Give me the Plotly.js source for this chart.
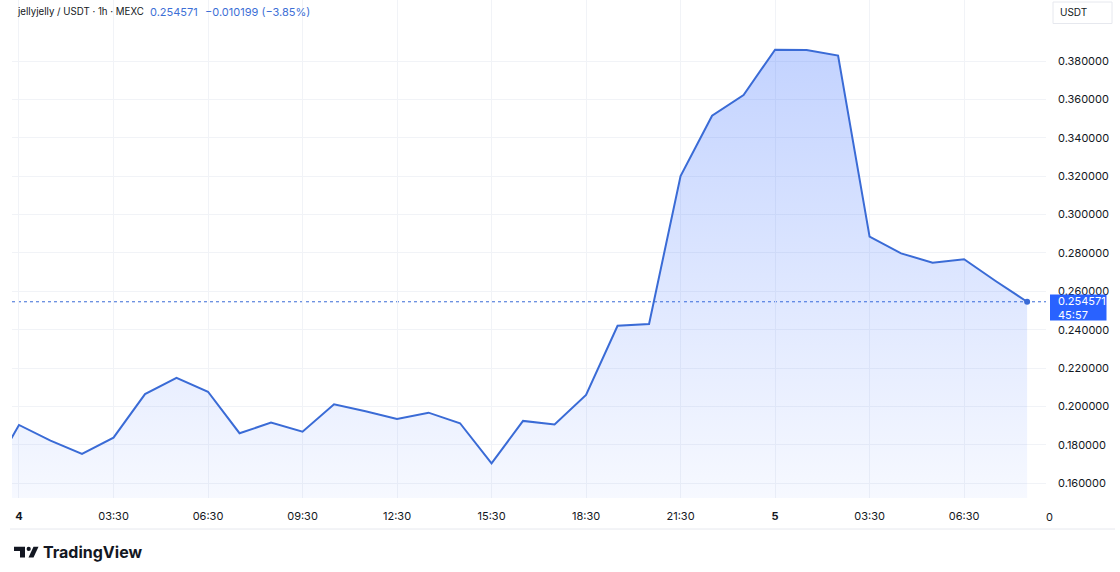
<!DOCTYPE html>
<html>
<head>
<meta charset="utf-8">
<script src="https://cdn.plot.ly/plotly-3.0.1.min.js"></script>
<style>
  html, body { margin: 0; padding: 0; background: #ffffff; }
  #chart { width: 1120px; height: 572px; }
</style>
</head>
<body>
<div id="chart"></div>
<script>
// ---- data (hourly closes, index 0 = day "4" tick) ----
const hours = [-1,0,1,2,3,4,5,6,7,8,9,10,11,12,13,14,15,16,17,18,19,20,21,22,23,24,25,26,27,28,29,30,31,32];
const prices = [0.1617,0.1904,0.1822,0.1753,0.1838,0.2065,0.2149,0.2077,0.1861,0.1916,0.1869,0.2012,0.1975,0.1935,0.1968,0.1913,0.1704,0.1925,0.1907,0.2060,0.2421,0.2430,0.3201,0.3515,0.3623,0.3859,0.3857,0.3828,0.2885,0.2798,0.2749,0.2767,0.2654,0.254571];
const tickHours = [0,3,6,9,12,15,18,21,24,27,30];
const tickLabels = ['<b>4</b>','03:30','06:30','09:30','12:30','15:30','18:30','21:30','<b>5</b>','03:30','06:30'];
const priceTicks = [0.16,0.18,0.20,0.22,0.24,0.26,0.28,0.30,0.32,0.34,0.36,0.38];
const lastPrice = 0.254571;
const headerSymbol = 'jellyjelly / USDT · 1h · MEXC';
const headerPrice = '0.254571';
const headerChange = '−0.010199 (−3.85%)';
const countdown = '45:57';
const currency = 'USDT';

// ---- layout helpers (pixel -> paper) ----
const W = 1120, H = 572, L = 12, R = 1046, T = 0, B = 498;
const px = x => (x - L) / (R - L);
const py = y => (B - y) / (B - T);

const lineColor = '#3a6bd6';
const textBlue = '#3d6fd6';
const font = 'Inter, "Noto Sans", Roboto, sans-serif';

const lastIdx = hours.length - 1;

const traces = [
  {
    x: hours, y: prices, type: 'scatter', mode: 'lines',
    line: {color: lineColor, width: 2},
    fill: 'tozeroy',
    fillgradient: {
      type: 'vertical',
      start: 0.1523, stop: 0.3859,
      colorscale: [[0, 'rgba(41,98,255,0.04)'], [1, 'rgba(41,98,255,0.28)']]
    },
    hoverinfo: 'skip', showlegend: false
  },
  {
    x: [hours[lastIdx]], y: [prices[lastIdx]], type: 'scatter', mode: 'markers',
    marker: {color: lineColor, size: 6},
    hoverinfo: 'skip', showlegend: false, cliponaxis: false
  }
];

const grid = '#f1f3f7';

const layout = {
  width: W, height: H,
  margin: {l: L, r: W - R, t: T, b: H - B, pad: 0},
  paper_bgcolor: '#ffffff', plot_bgcolor: '#ffffff',
  font: {family: font, size: 11, color: '#131722'},
  showlegend: false,
  xaxis: {
    range: [-0.222, 32.6], tickvals: tickHours, ticktext: tickLabels,
    showgrid: true, gridcolor: grid, gridwidth: 1, zeroline: false, showline: false,
    ticks: '', ticklabelstandoff: 10, tickfont: {size: 11, color: '#131722', family: font},
    fixedrange: true
  },
  yaxis: {
    side: 'right', range: [0.15235, 0.41178], tickvals: priceTicks, tickformat: '.6f',
    showgrid: true, gridcolor: grid, gridwidth: 1, zeroline: false, showline: false,
    ticks: '', ticklabelstandoff: 11, tickfont: {size: 11, color: '#131722', family: font},
    fixedrange: true
  },
  shapes: [
    {type: 'line', xref: 'paper', yref: 'y', x0: 0, x1: 1, y0: lastPrice, y1: lastPrice,
     line: {color: lineColor, width: 1, dash: 'dot'}, layer: 'below'},
    {type: 'line', xref: 'paper', yref: 'paper', x0: px(10), x1: px(1115), y0: py(529), y1: py(529),
     line: {color: '#e6e8ee', width: 1}},
    // price label box
    {type: 'rect', xref: 'paper', yref: 'paper', x0: px(1050), x1: px(1106.5), y0: py(320.5), y1: py(294.5),
     fillcolor: '#2962ff', line: {width: 0}},
    // currency box
    {type: 'rect', xref: 'paper', yref: 'paper', x0: px(1053), x1: px(1112), y0: py(23.5), y1: py(2),
     fillcolor: '#ffffff', line: {color: '#e6e8ee', width: 1}},
    // TradingView logo glyph
    {type: 'path', xref: 'paper', yref: 'paper', fillcolor: '#131722', line: {width: 0},
     path: `M ${px(14)} ${py(546.7)} L ${px(25)} ${py(546.7)} L ${px(25)} ${py(557.5)} L ${px(20)} ${py(557.5)} L ${px(20)} ${py(551)} L ${px(14)} ${py(551)} Z`},
    {type: 'circle', xref: 'paper', yref: 'paper', fillcolor: '#131722', line: {width: 0},
     x0: px(26.6), x1: px(30.8), y0: py(551), y1: py(546.8)},
    {type: 'path', xref: 'paper', yref: 'paper', fillcolor: '#131722', line: {width: 0},
     path: `M ${px(28.5)} ${py(557.5)} L ${px(33.5)} ${py(557.5)} L ${px(38.5)} ${py(546.7)} L ${px(33.5)} ${py(546.7)} Z`}
  ],
  annotations: [
    {xref: 'paper', yref: 'paper', x: px(15), y: py(12), xanchor: 'left', yanchor: 'middle', showarrow: false,
     text: headerSymbol, font: {family: font, size: 9.7, color: '#131722'}},
    {xref: 'paper', yref: 'paper', x: px(148), y: py(12), xanchor: 'left', yanchor: 'middle', showarrow: false,
     text: headerPrice, font: {family: font, size: 11, color: textBlue}},
    {xref: 'paper', yref: 'paper', x: px(203), y: py(12), xanchor: 'left', yanchor: 'middle', showarrow: false,
     text: headerChange, font: {family: font, size: 11, color: textBlue}},
    {xref: 'paper', yref: 'paper', x: px(1058), y: py(12.5), xanchor: 'left', yanchor: 'middle', showarrow: false,
     text: currency, font: {family: font, size: 10, color: '#131722'}},
    {xref: 'paper', yref: 'paper', x: px(1055.5), y: py(307.5), xanchor: 'left', yanchor: 'middle', showarrow: false,
     text: lastPrice.toFixed(6) + '<br>' + countdown, align: 'left',
     font: {family: font, size: 11, color: '#ffffff'}},
    {xref: 'paper', yref: 'paper', x: px(1044), y: py(517), xanchor: 'left', yanchor: 'middle', showarrow: false,
     text: '0', font: {family: font, size: 11, color: '#131722'}},
    {xref: 'paper', yref: 'paper', x: px(41), y: py(552), xanchor: 'left', yanchor: 'middle', showarrow: false,
     text: '<b>TradingView</b>', font: {family: font, size: 16, color: '#131722'}}
  ]
};

Plotly.newPlot('chart', traces, layout, {displayModeBar: false, staticPlot: true});
</script>
</body>
</html>
